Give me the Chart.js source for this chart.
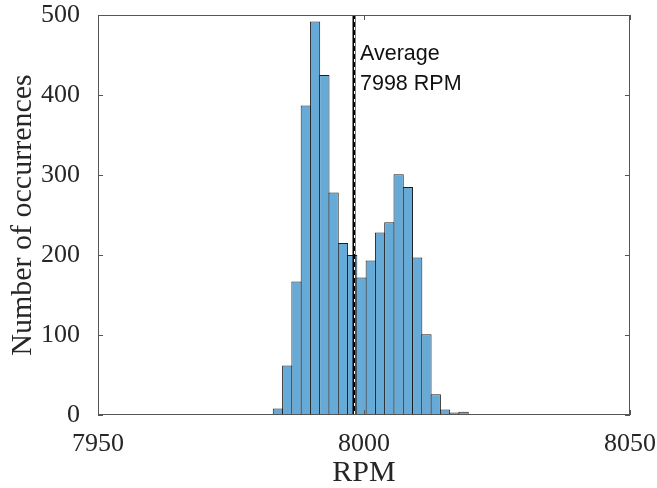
<!DOCTYPE html>
<html>
<head>
<meta charset="utf-8">
<script src="https://cdn.jsdelivr.net/npm/chart.js@4"></script>
<style>
  html, body { margin: 0; padding: 0; background: #fff; overflow: hidden; }
  #wrap { width: 657px; height: 488px; }
</style>
</head>
<body>
<div id="wrap"><canvas id="hist"></canvas></div>
<script>
// histogram bins (centre of each bin, RPM) and counts
const binCenters = [7983.82, 7985.57, 7987.31, 7989.06, 7990.80, 7992.55, 7994.29,
  7996.04, 7997.78, 7999.53, 8001.27, 8003.02, 8004.76, 8006.51, 8008.25, 8010.00,
  8011.74, 8013.49, 8015.23, 8016.98, 8018.72];
const counts = [8, 62, 167, 387, 492, 425, 278, 215, 200, 172, 193, 228, 241,
  301, 285, 197, 101, 26, 7, 3, 4];
const averageRpm = 7998;
const annotation = ['Average', averageRpm + ' RPM'];
const xTicks = [7950, 8000, 8050];
const yTicks = [0, 100, 200, 300, 400, 500];

const axisColor = '#555';
const serif = '"Liberation Serif", "DejaVu Serif", serif';

// keep label overflow from pushing the plot area around
function noPad(s) {
  s.paddingTop = 0; s.paddingBottom = 0;
  s.paddingLeft = 0; s.paddingRight = 0;
}

// MATLAB style box with inward ticks, plus the average line
const boxPlugin = {
  id: 'box',
  afterDatasetsDraw(chart) {
    const { ctx, chartArea: a, scales } = chart;
    const x = scales.x, y = scales.y;
    const L = Math.round(a.left), R = Math.round(a.right);
    const T = Math.round(a.top), B = Math.round(a.bottom);
    ctx.save();

    // average line
    const ax = Math.round(x.getPixelForValue(averageRpm)) + 1;
    ctx.strokeStyle = '#000';
    ctx.lineWidth = 3;
    ctx.beginPath();
    ctx.moveTo(ax, T);
    ctx.lineTo(ax, B);
    ctx.stroke();
    ctx.strokeStyle = '#fff';
    ctx.lineWidth = 1;
    ctx.setLineDash([3, 5]);
    ctx.beginPath();
    ctx.moveTo(ax + 0.5, T + 4);
    ctx.lineTo(ax + 0.5, B);
    ctx.stroke();
    ctx.setLineDash([]);

    ctx.fillStyle = '#111';
    ctx.font = '21.5px "Liberation Sans", Arial, sans-serif';
    ctx.textBaseline = 'alphabetic';
    ctx.textAlign = 'left';
    ctx.fillText(annotation[0], ax + 6, 60);
    ctx.fillText(annotation[1], ax + 6, 90);

    // box
    ctx.strokeStyle = axisColor;
    ctx.lineWidth = 1;
    ctx.strokeRect(L + 0.5, T + 0.5, R - L - 1, B - T - 1);

    // inward ticks
    const len = 5;
    ctx.beginPath();
    y.ticks.forEach(t => {
      const py = Math.round(y.getPixelForValue(t.value)) + 0.5;
      ctx.moveTo(L, py); ctx.lineTo(L + len, py);
      ctx.moveTo(R, py); ctx.lineTo(R - len, py);
    });
    x.ticks.forEach(t => {
      const px = Math.round(x.getPixelForValue(t.value)) + 0.5;
      ctx.moveTo(px, B); ctx.lineTo(px, B - len);
      ctx.moveTo(px, T); ctx.lineTo(px, T + len);
    });
    ctx.stroke();
    ctx.restore();
  }
};

const hist = new Chart(document.getElementById('hist'), {
  type: 'bar',
  data: {
    datasets: [{
      label: 'RPM',
      data: binCenters.map((c, i) => ({ x: c, y: counts[i] })),
      backgroundColor: 'rgb(102, 170, 215)',
      borderColor: '#1e1e1e',
      borderWidth: 1,
      borderSkipped: 'start',
      barPercentage: 1.11,
      categoryPercentage: 1
    }]
  },
  options: {
    responsive: true,
    maintainAspectRatio: false,
    animation: false,
    devicePixelRatio: 1,
    layout: { padding: { left: 0, right: 27, top: 15, bottom: 0 } },
    plugins: {
      legend: { display: false },
      tooltip: { enabled: false }
    },
    scales: {
      x: {
        type: 'linear',
        min: 7950,
        max: 8050,
        offset: false,
        afterBuildTicks: s => { s.ticks = xTicks.map(v => ({ value: v })); },
        afterFit: s => { s.height = 73; noPad(s); },
        grid: { display: false, offset: false },
        border: { display: false },
        ticks: {
          color: '#262626',
          font: { family: serif, size: 26 },
          padding: 6,
          maxRotation: 0,
          callback: v => String(v)
        },
        title: {
          display: true,
          text: 'RPM',
          color: '#262626',
          font: { family: serif, size: 30, lineHeight: 1 },
          padding: { top: 0, bottom: 0 }
        }
      },
      y: {
        min: 0,
        max: 500,
        afterBuildTicks: s => { s.ticks = yTicks.map(v => ({ value: v })); },
        afterFit: s => { s.width = 98; noPad(s); },
        grid: { display: false },
        border: { display: false },
        ticks: {
          color: '#262626',
          font: { family: serif, size: 26 },
          padding: 10,
          callback: v => String(v)
        },
        title: {
          display: true,
          text: 'Number of occurrences',
          color: '#262626',
          font: { family: serif, size: 30 },
          padding: { top: 5, bottom: 0 }
        }
      }
    }
  },
  plugins: [boxPlugin]
});
</script>
</body>
</html>
